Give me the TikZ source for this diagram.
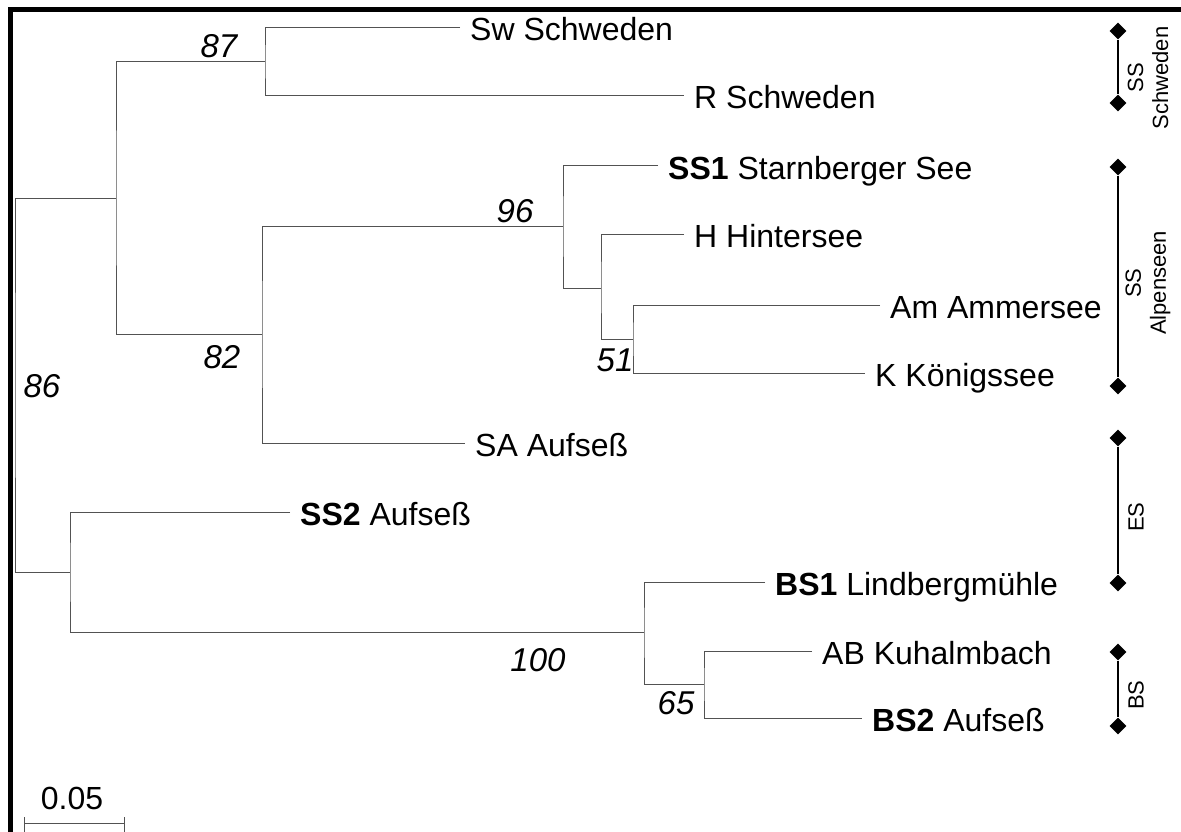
\documentclass[tikz,border=0pt]{standalone}
\usepackage{fontspec}
\setmainfont{Liberation Sans}
\usetikzlibrary{positioning,shapes.geometric}

\begin{document}
\begin{tikzpicture}[x=1pt, y=-1pt,
    branch/.style={draw=black!68, line width=1pt},
    taxon/.style={anchor=west, inner sep=0pt, xshift=10pt, yshift=-2pt,
                  font=\fontsize{32}{38}\selectfont,
                  text height=22pt, text depth=0pt},
    boot/.style={inner sep=0pt, font=\fontsize{33}{38}\selectfont\itshape},
    tip/.style={diamond, fill=black, inner sep=0pt, minimum size=17pt},
    cladeline/.style={draw=black, line width=1.4pt},
    cladename/.style={rotate=90, align=center, inner sep=0pt,
                      font=\fontsize{22}{25}\selectfont},
  ]
    \useasboundingbox (0,0) rectangle (1181,832);
    \draw[line width=5pt] (10.5,832) -- (10.5,10) -- (1181,10);

    % --- inner nodes of the tree -------------------------------------------
    \coordinate (root) at (15,385);
    \coordinate (nA)   at (116,198);
    \coordinate (nB)   at (70,572);
    \coordinate (n87)  at (265,62);
    \coordinate (n82)  at (262,334);
    \coordinate (n96)  at (563,226);
    \coordinate (nH)   at (601,288);
    \coordinate (n51)  at (633,339);
    \coordinate (n100) at (644,632);
    \coordinate (n65)  at (704,684);

    % --- leaf ends ----------------------------------------------------------
    \coordinate (sw)  at (460,28);
    \coordinate (rs)  at (684,96);
    \coordinate (ss1) at (658,166);
    \coordinate (hh)  at (684,234);
    \coordinate (am)  at (880,305);
    \coordinate (kk)  at (865,373);
    \coordinate (sa)  at (465,443);
    \coordinate (ss2) at (290,512);
    \coordinate (bs1) at (765,582);
    \coordinate (ab)  at (812,651);
    \coordinate (bs2) at (862,718);

    % --- branches -----------------------------------------------------------
    \draw[branch] (nA) -| (root) |- (nB);
    \draw[branch] (n87) -| (nA) |- (n82);
    \draw[branch] (sw) -| (n87) |- (rs);
    \draw[branch] (n96) -| (n82) |- (sa);
    \draw[branch] (ss1) -| (n96) |- (nH);
    \draw[branch] (hh) -| (nH) |- (n51);
    \draw[branch] (am) -| (n51) |- (kk);
    \draw[branch] (ss2) -| (nB) |- (n100);
    \draw[branch] (bs1) -| (n100) |- (n65);
    \draw[branch] (ab) -| (n65) |- (bs2);

    % --- taxon labels -------------------------------------------------------
    \node[taxon] (tsw)  at (sw)  {Sw Schweden};
    \node[taxon] (trs)  at (rs)  {R Schweden};
    \node[taxon] (tss1) at (ss1) {\textbf{SS1} Starnberger See};
    \node[taxon] (thh)  at (hh)  {H Hintersee};
    \node[taxon] (tam)  at (am)  {Am Ammersee};
    \node[taxon] (tkk)  at (kk)  {K Königssee};
    \node[taxon] (tsa)  at (sa)  {SA Aufseß};
    \node[taxon] (tss2) at (ss2) {\textbf{SS2} Aufseß};
    \node[taxon] (tbs1) at (bs1) {\textbf{BS1} Lindbergmühle};
    \node[taxon] (tab)  at (ab)  {AB Kuhalmbach};
    \node[taxon] (tbs2) at (bs2) {\textbf{BS2} Aufseß};

    % --- bootstrap values ---------------------------------------------------
    \node[boot] (b87)  at (219,46)  {87};
    \node[boot] (b96)  at (515,211) {96};
    \node[boot] (b82)  at (222,357) {82};
    \node[boot] (b51)  at (615,360) {51};
    \node[boot] (b86)  at (42,386)  {86};
    \node[boot] (b100) at (538,660) {100};
    \node[boot] (b65)  at (676,703) {65};

    % --- scale bar ----------------------------------------------------------
    \coordinate (s0) at (24,823);
    \coordinate (s1) at (124,823);
    \draw[branch] (s0) -- (s1);
    \draw[branch] ([yshift=6pt]s0) -- ([yshift=-9pt]s0);
    \draw[branch] ([yshift=6pt]s1) -- ([yshift=-9pt]s1);
    \node[inner sep=0pt, font=\fontsize{32}{38}\selectfont] (sc) at (72,798) {0.05};

    % --- groups on the right ------------------------------------------------
    \node[tip] (g1a) at (1118,31)  {};
    \node[tip] (g1b) at (1118,103) {};
    \node[tip] (g2a) at (1118,167) {};
    \node[tip] (g2b) at (1118,386) {};
    \node[tip] (g3a) at (1118,438) {};
    \node[tip] (g3b) at (1118,583) {};
    \node[tip] (g4a) at (1118,652) {};
    \node[tip] (g4b) at (1118,726) {};
    \draw[cladeline] (g1a) -- (g1b);
    \draw[cladeline] (g2a) -- (g2b);
    \draw[cladeline] (g3a) -- (g3b);
    \draw[cladeline] (g4a) -- (g4b);
    \node[cladename] (c1) at (1148,78)  {SS\\Schweden};
    \node[cladename] (c2) at (1148,283) {SS\\Alpenseen};
    \node[cladename] (c3) at (1136,517) {ES};
    \node[cladename] (c4) at (1136,695) {BS};
  \end{tikzpicture}
\end{document}
